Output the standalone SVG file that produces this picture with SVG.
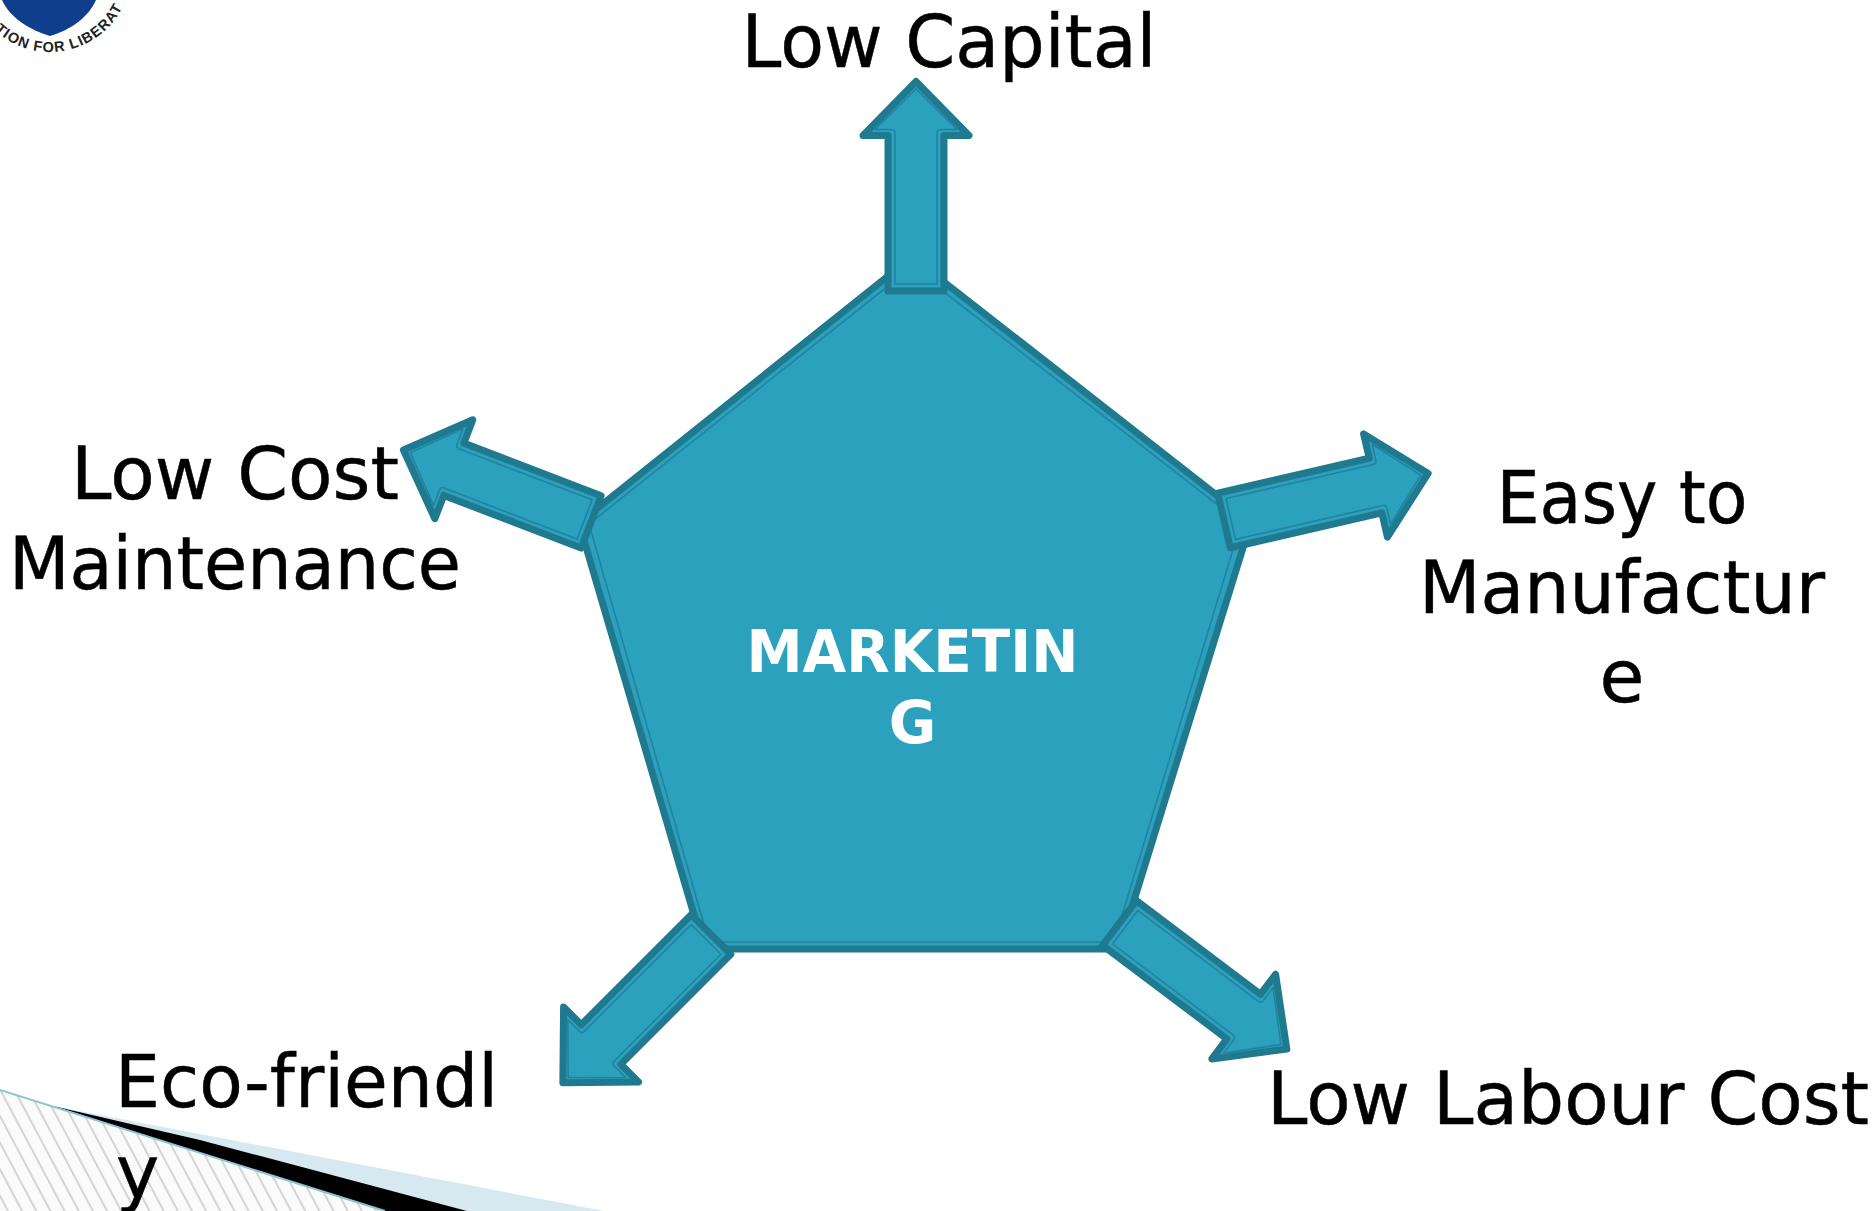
<svg xmlns="http://www.w3.org/2000/svg" xmlns:xlink="http://www.w3.org/1999/xlink" width="1873" height="1211" viewBox="0 0 1873 1211">
<style>
.lbl{font-family:"DejaVu Sans",sans-serif;font-size:73px;fill:#000;stroke:#000;stroke-width:.5}
.mid{text-anchor:middle}
.ctr{font-family:"DejaVu Sans",sans-serif;font-weight:bold;font-size:58px;fill:#fff;text-anchor:middle}
.outer{fill:#2CA1BE;stroke:#1F7A90;stroke-width:7;stroke-linejoin:round}
.inner{fill:none;stroke:#2283A0;stroke-width:1.6;stroke-linejoin:round}
.logo{font-family:"Liberation Sans",Arial,sans-serif;font-weight:bold;font-size:14.5px;letter-spacing:1px;fill:#222}
</style>
<defs>
<pattern id="hatch" width="12.500" height="12.500" patternUnits="userSpaceOnUse" patternTransform="rotate(-28)">
<rect width="12.500" height="12.500" fill="#fbfbfb"/>
<rect x="0" width="2" height="12.500" fill="#d4d4d4"/>
</pattern>
<g id="arrow">
<path class="outer" d="M-28,0 L-28,-155.500 L-53,-155.500 L0,-209.500 L53,-155.500 L28,-155.500 L28,0 Z"/>
<path class="inner" d="M-21,-7 L-21,-158 Q-21,-161.500 -24.500,-161.500 L-41,-161.500 L0,-202 L41,-161.500 L24.500,-161.500 Q21,-161.500 21,-158 L21,-7 Z"/>
</g>
<g id="arrow-short">
<path class="outer" d="M-28,-8.500 L-28,-155.500 L-53,-155.500 L0,-209.500 L53,-155.500 L28,-155.500 L28,-8.500 Z"/>
<path class="inner" d="M-21,-15.500 L-21,-158 Q-21,-161.500 -24.500,-161.500 L-41,-161.500 L0,-202 L41,-161.500 L24.500,-161.500 Q21,-161.500 21,-158 L21,-15.500 Z"/>
</g>
<path id="arc" d="M-31,-29 A81,81 0 0 0 131,-29"/>
</defs>
<rect width="1873" height="1211" fill="#fff"/>
<g id="logo">
<path d="M2,0 C10,18 30,30 50,36 C70,30 88,18 96,0 Z" fill="#0F3F8C"/>
<text class="logo"><textPath xlink:href="#arc" href="#arc" startOffset="66">TION FOR LIBERAT</textPath></text>
</g>
<g id="corner">
<path d="M0,1090 L385,1211 L0,1211 Z" fill="url(#hatch)"/>
<path d="M53,1106 L604,1211 L467,1211 Z" fill="#D6E8F0"/>
<path d="M53,1106 L200,1140 L467,1211 L383,1211 Z" fill="#000"/>
<path d="M0,1090 L385,1211" fill="none" stroke="#8FC3D8" stroke-width="2"/>
</g>
<g id="node-marketing">
<path class="outer" d="M912,257 L1251,522 L1119,949 L704,949 L579,523 Z"/>
<path class="inner" d="M912,267 L1241,523 L1114,942 L709,942 L589,524 Z"/>
<text class="ctr" x="912.500" y="672" textLength="332" lengthAdjust="spacingAndGlyphs">MARKETIN</text>
<text class="ctr" x="912.500" y="743">G</text>
</g>
<g id="connectors">
<use href="#arrow" transform="translate(916,291)"/>
<use href="#arrow" transform="translate(1224,520.500) rotate(77)"/>
<use href="#arrow" transform="translate(1119.500,923) rotate(127)"/>
<use href="#arrow" transform="translate(711,934.500) rotate(-135)"/>
<use href="#arrow-short" transform="translate(599,525) rotate(-69)"/>
</g>
<g id="node-low-capital"><text class="lbl mid" x="949" y="67" textLength="415" lengthAdjust="spacingAndGlyphs">Low Capital</text></g>
<g id="node-easy"><text class="lbl mid" x="1622" y="523" textLength="251" lengthAdjust="spacingAndGlyphs">Easy to</text><text class="lbl mid" x="1622" y="613" textLength="406" lengthAdjust="spacingAndGlyphs">Manufactur</text><text class="lbl mid" x="1622" y="702">e</text></g>
<g id="node-labour"><text class="lbl" x="1267" y="1124" textLength="602" lengthAdjust="spacingAndGlyphs">Low Labour Cost</text></g>
<g id="node-eco"><text class="lbl" x="115" y="1107" textLength="383" lengthAdjust="spacingAndGlyphs">Eco-friendl</text><text class="lbl" x="116" y="1198">y</text></g>
<g id="node-maint"><text class="lbl mid" x="235" y="499" textLength="328" lengthAdjust="spacingAndGlyphs">Low Cost</text><text class="lbl mid" x="235" y="589" textLength="452" lengthAdjust="spacingAndGlyphs">Maintenance</text></g>
</svg>
